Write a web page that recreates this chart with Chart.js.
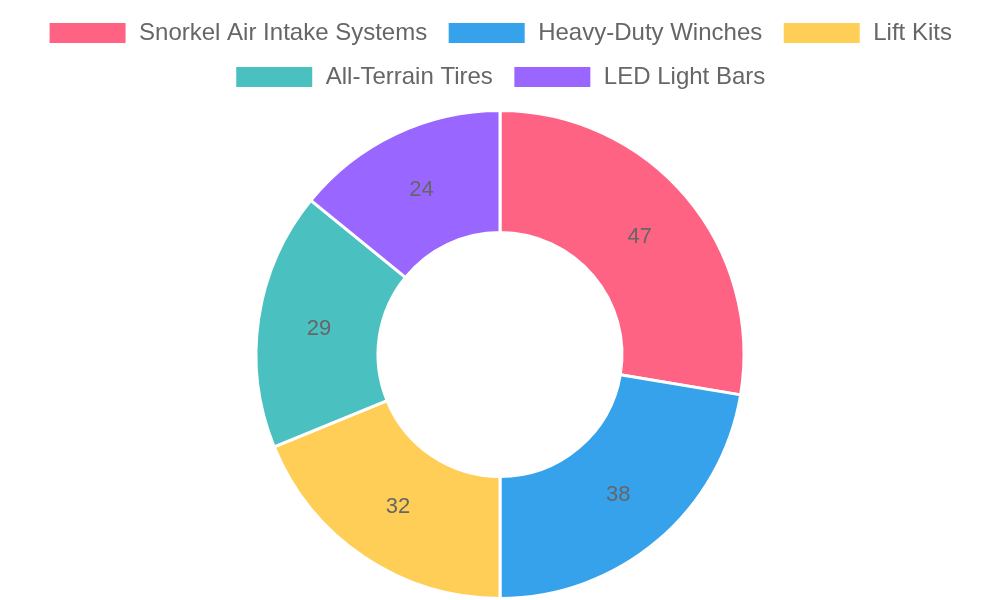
<!DOCTYPE html>
<html>
<head>
<meta charset="utf-8">
<script src="https://cdn.jsdelivr.net/npm/chart.js@4"></script>
<style>
html,body{margin:0;padding:0;background:#fff;}
#wrap{width:1000px;height:600px;}
</style>
</head>
<body>
<div id="wrap"><canvas id="c"></canvas></div>
<script>
const categories = ["Snorkel Air Intake Systems", "Heavy-Duty Winches", "Lift Kits", "All-Terrain Tires", "LED Light Bars"];
const values = [47, 38, 32, 29, 24];
const colors = ["#FF6384", "#36A2EB", "#FFCE56", "#4BC0C0", "#9966FF"];

const labelPlugin = {
  id: 'sliceLabels',
  afterDatasetsDraw(chart) {
    const ctx = chart.ctx;
    const meta = chart.getDatasetMeta(0);
    ctx.save();
    ctx.font = '22px "Liberation Sans", Arial, sans-serif';
    ctx.fillStyle = '#666';
    ctx.textAlign = 'center';
    ctx.textBaseline = 'middle';
    meta.data.forEach((arc, i) => {
      const p = arc.tooltipPosition();
      ctx.fillText(String(values[i]), p.x, p.y + 1);
    });
    ctx.restore();
  }
};

const legendGapPlugin = {
  id: 'legendGap',
  afterInit(chart) {
    const lg = chart.legend;
    const orig = lg.fit;
    lg.fit = function() { orig.call(this); this.height += 10; };
  }
};

new Chart(document.getElementById('c'), {
  type: 'doughnut',
  data: {
    labels: categories,
    datasets: [{
      data: values,
      backgroundColor: colors,
      borderColor: '#fff',
      borderWidth: 3
    }]
  },
  options: {
    responsive: true,
    maintainAspectRatio: false,
    animation: false,
    cutout: '50%',
    layout: { padding: { top: 1 } },
    plugins: {
      legend: {
        position: 'top',
        labels: {
          color: '#666',
          boxWidth: 79,
          boxHeight: 23,
          padding: 20,
          font: { size: 24, family: '"Liberation Sans", Arial, sans-serif' }
        }
      },
      tooltip: { enabled: false }
    }
  },
  plugins: [labelPlugin, legendGapPlugin]
});
</script>
</body>
</html>
